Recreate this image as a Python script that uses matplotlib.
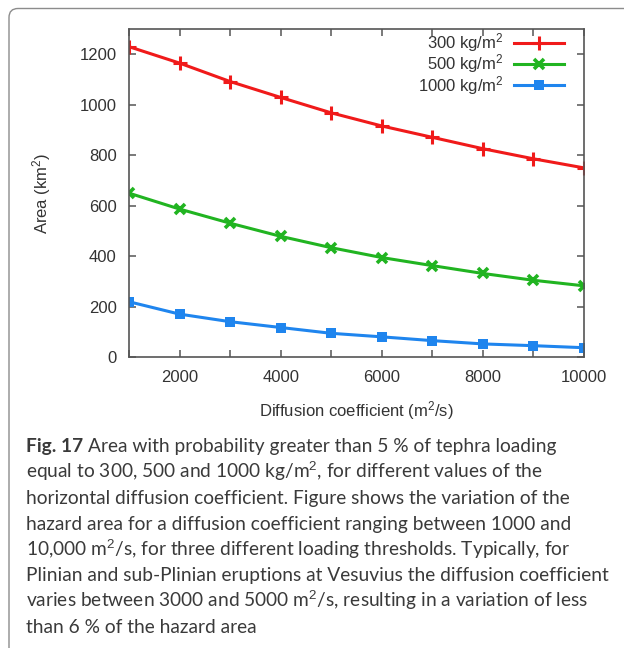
import matplotlib
matplotlib.use("Agg")
import matplotlib.pyplot as plt
from matplotlib.patches import FancyBboxPatch

# diffusion coefficient (m2/s) and hazard areas (km2)
diffusion = [1000, 2000, 3000, 4000, 5000, 6000, 7000, 8000, 9000, 10000]
area_300 = [1230, 1165, 1092, 1029, 968, 916, 871, 826, 786, 750]
area_500 = [650, 587, 531, 479, 434, 395, 363, 332, 305, 283]
area_1000 = [220, 171, 141, 118, 95, 81, 66, 53, 46, 38]

series_labels = ["300 kg/m$^2$", "500 kg/m$^2$", "1000 kg/m$^2$"]
x_ticks = [1000, 2000, 3000, 4000, 5000, 6000, 7000, 8000, 9000, 10000]
x_ticklabels = ["", "2000", "", "4000", "", "6000", "", "8000", "", "10000"]
y_ticks = [0, 200, 400, 600, 800, 1000, 1200]

caption_lines = [
    "Area with probability greater than 5 % of tephra loading",
    "equal to 300, 500 and 1000 kg/m$^2$, for different values of the",
    "horizontal diffusion coefficient. Figure shows the variation of the",
    "hazard area for a diffusion coefficient ranging between 1000 and",
    "10,000 m$^2$/s, for three different loading thresholds. Typically, for",
    "Plinian and sub-Plinian eruptions at Vesuvius the diffusion coefficient",
    "varies between 3000 and 5000 m$^2$/s, resulting in a variation of less",
    "than 6 % of the hazard area",
]

plt.rcParams['font.family'] = ['Liberation Sans', 'DejaVu Sans']
plt.rcParams['mathtext.fontset'] = 'custom'
plt.rcParams['mathtext.rm'] = 'Liberation Sans'
plt.rcParams['mathtext.it'] = 'Liberation Sans'

W, H = 624, 648
fig = plt.figure(figsize=(W / 100, H / 100), dpi=100)

# light frame around the figure block
frame = FancyBboxPatch((9, -40), 700, H - 8 + 40 - 0.5,
                       boxstyle="round,pad=0,rounding_size=9",
                       transform=None, fill=False, edgecolor="#8c8c8c",
                       linewidth=1.0)
fig.patches.append(frame)

ax = fig.add_axes([129 / W, 1 - 357.3 / H, 455 / W, 328.3 / H])

colors = ["#f01a1a", "#21b421", "#1f85ee"]
ax.plot(diffusion, area_300, color=colors[0], lw=2.2, marker="+",
        ms=10, mew=2.2, label=series_labels[0])
ax.plot(diffusion, area_500, color=colors[1], lw=2.2, marker="x",
        ms=7, mew=2.6, label=series_labels[1])
ax.plot(diffusion, area_1000, color=colors[2], lw=2.2, marker="s",
        ms=6.5, mew=0, label=series_labels[2])

ax.set_xlim(1000, 10000)
ax.set_ylim(0, 1300)
ax.set_xticks(x_ticks)
ax.set_xticklabels(x_ticklabels)
ax.set_yticks(y_ticks)

for s in ax.spines.values():
    s.set_color("#555555")
    s.set_linewidth(1.2)
ax.tick_params(direction="in", length=5, width=1.1, color="#555555",
               top=True, right=True, labelsize=12, labelcolor="#333333",
               pad=9)

ax.set_xlabel("Diffusion coefficient (m$^2$/s)", fontsize=12,
              color="#333333")
ax.set_ylabel("Area (km$^2$)", fontsize=12, color="#333333")
ax.xaxis.set_label_coords(0.5, -0.128)
ax.yaxis.set_label_coords(-0.167, 0.5)

leg = ax.legend(loc="upper right", bbox_to_anchor=(0.956, 0.993),
                frameon=False, markerfirst=False, fontsize=12,
                handlelength=3.0, handletextpad=0.6, labelspacing=-0.1,
                borderaxespad=0.0, borderpad=0.0)
for t in leg.get_texts():
    t.set_color("#333333")

# caption
cap_font = ['Lato', 'DejaVu Sans']
cap_size = 13.8
cap_color = "#3a3a3a"
x0 = 26 / W
y_first = 1 - 452 / H
step = 25.9 / H
fig.text(x0, y_first, "Fig. 17", family=cap_font, fontsize=cap_size,
         fontweight="bold", color=cap_color, va="baseline")
r = fig.canvas.get_renderer()
bold = fig.texts[-1]
bb = bold.get_window_extent(r)
fig.text((bb.x1 + 5) / W, y_first, caption_lines[0], family=cap_font,
         fontsize=cap_size, color=cap_color, va="baseline")
for i, line in enumerate(caption_lines[1:], start=1):
    fig.text(x0, y_first - i * step, line, family=cap_font,
             fontsize=cap_size, color=cap_color, va="baseline")

fig.savefig("out.png", dpi=100)
